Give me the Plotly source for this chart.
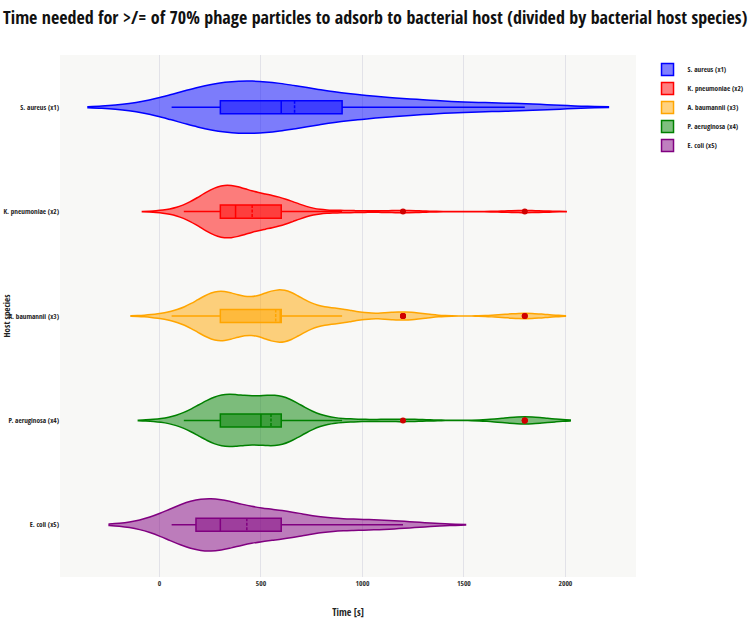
import numpy as np
import plotly.graph_objects as go

# ---- data (adsorption time in seconds) ----
species = ["S. aureus (x1)", "K. pneumoniae (x2)", "A. baumannii (x3)",
           "P. aeruginosa (x4)", "E. coli (x5)"]
colors = ["blue", "red", "orange", "green", "purple"]

s_aureus_times = [60, 180, 240, 300, 420, 480, 600, 900, 1200, 1500, 1800]
s_aureus_counts = [1, 1, 1, 4, 1, 1, 5, 3, 2, 1, 1]

k_pneumoniae_times = [120, 180, 240, 300, 360, 390, 480, 600, 900, 1200, 1800]
k_pneumoniae_counts = [1, 1, 3, 13, 4, 4, 6, 9, 1, 1, 1]

a_baumannii_times = [60, 120, 180, 240, 300, 360, 420, 480, 600, 720, 840, 900, 1200, 1800]
a_baumannii_counts = [1, 1, 1, 3, 13, 1, 2, 2, 17, 2, 2, 3, 3, 2]

p_aeruginosa_times = [120, 180, 240, 300, 360, 420, 480, 520, 540, 600, 720, 900, 1200, 1800]
p_aeruginosa_counts = [1, 1, 2, 11, 6, 2, 1, 1, 2, 15, 1, 1, 1, 3]

e_coli_times = [60, 120, 180, 300, 360, 600, 900, 1000, 1200]
e_coli_counts = [1, 1, 5, 5, 1, 5, 1, 1, 1]

bandwidths = [206, 102, 100, 112, 154]

series = [
    (s_aureus_times, s_aureus_counts),
    (k_pneumoniae_times, k_pneumoniae_counts),
    (a_baumannii_times, a_baumannii_counts),
    (p_aeruginosa_times, p_aeruginosa_counts),
    (e_coli_times, e_coli_counts),
]

FONT = "Open Sans Condensed, sans-serif"

fig = go.Figure()
for name, color, (times, counts), bw in zip(species, colors, series, bandwidths):
    vals = np.repeat(times, counts)
    fig.add_trace(go.Violin(
        x=vals,
        y=[name] * len(vals),
        name=name,
        orientation="h",
        line=dict(color=color, width=1.5),
        box_visible=True,
        meanline_visible=True,
        points="outliers",
        pointpos=0,
        jitter=0,
        marker=dict(color="#d00000", size=6),
        bandwidth=bw,
        width=0.5,
        spanmode="soft",
        hoverinfo="skip",
    ))

fig.update_layout(
    width=750, height=621,
    margin=dict(l=60, r=114, t=55, b=44, autoexpand=False),
    paper_bgcolor="white",
    plot_bgcolor="rgb(248,248,246)",
    font=dict(family=FONT, size=7.2, color="#222"),
    title=dict(text="Time needed for >/= of 70% phage particles to adsorb to bacterial host (divided by bacterial host species)",
               x=0.004, xanchor="left", y=0.972, yanchor="middle",
               font=dict(family=FONT, size=18, color="#111")),
    legend=dict(font=dict(size=7.2, family=FONT), x=1.02, y=1,
                xanchor="left", yanchor="top", tracegroupgap=0),
    violinmode="overlay",
    showlegend=True,
)
fig.update_xaxes(range=[-490, 2348], showgrid=True, gridcolor="rgb(226,226,232)", gridwidth=1,
                 zeroline=False, tickvals=[0, 500, 1000, 1500, 2000], automargin=False,
                 title=dict(text="Time [s]", font=dict(size=10, family=FONT), standoff=22),
                 tickfont=dict(size=7.5, color="#333", family=FONT))
fig.update_yaxes(type="category", categoryorder="array", categoryarray=species,
                 range=[4.5, -0.5], showgrid=False, zeroline=False, automargin=False,
                 title=dict(text="Host species", font=dict(size=9, family=FONT), standoff=2),
                 tickfont=dict(size=7.2, color="#222", family=FONT))

fig.write_html("out.html")
